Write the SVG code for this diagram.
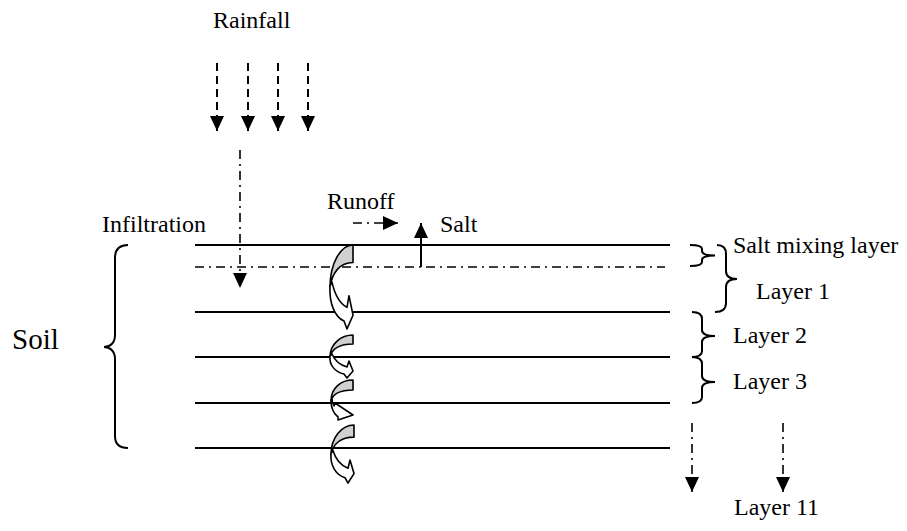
<svg xmlns="http://www.w3.org/2000/svg" xmlns:xlink="http://www.w3.org/1999/xlink" width="907" height="531" viewBox="0 0 907 531">
<style>
text{font-family:"Liberation Serif","Times New Roman",serif;font-size:24px;fill:#000}
.ln{stroke:#000;stroke-width:2;fill:none}
.dd{stroke:#000;stroke-width:1.6;fill:none;stroke-dasharray:9 5 2 5}
.ds{stroke:#000;stroke-width:2;fill:none;stroke-dasharray:8 5}
.br{stroke:#000;stroke-width:2;fill:none}
.cg{fill:#d0d0d0;stroke:#000;stroke-width:1.6;stroke-linejoin:round}
.cw{fill:#fff;stroke:#000;stroke-width:1.6;stroke-linejoin:round}
</style>
<defs>
<marker id="ah" markerUnits="userSpaceOnUse" markerWidth="16" markerHeight="16" refX="15" refY="7" orient="auto">
<path d="M0,0 L15,7 L0,14 Z" fill="#000"/>
</marker>
<g id="curl">
<path class="cg" vector-effect="non-scaling-stroke" d="M23,0 C11,0 0,9 0,22 C2,14 10,9 23,9 Z"/>
<path class="cw" vector-effect="non-scaling-stroke" d="M0,21 C-1,30 5,37 14,39 L17,43 L23,36 L19,26 L17,32 C10,30 5,26 2,19 Z"/>
</g>
</defs>

<g id="layers">
<line class="ln" x1="195" y1="245" x2="670" y2="245"/>
<line class="dd" x1="195" y1="267" x2="665" y2="267"/>
<line class="ln" x1="195" y1="312" x2="670" y2="312"/>
<line class="ln" x1="195" y1="357" x2="670" y2="357"/>
<line class="ln" x1="195" y1="403" x2="670" y2="403"/>
<line class="ln" x1="195" y1="448" x2="670" y2="448"/>
</g>

<g id="connectors">
<line class="ds" x1="217" y1="63" x2="217" y2="131" marker-end="url(#ah)"/>
<line class="ds" x1="248" y1="63" x2="248" y2="131" marker-end="url(#ah)"/>
<line class="ds" x1="278" y1="63" x2="278" y2="131" marker-end="url(#ah)"/>
<line class="ds" x1="308" y1="63" x2="308" y2="131" marker-end="url(#ah)"/>
<line class="dd" x1="240" y1="150" x2="240" y2="288" marker-end="url(#ah)"/>
<line class="dd" x1="353" y1="223" x2="398" y2="223" marker-end="url(#ah)"/>
<line class="ln" x1="421" y1="267" x2="421" y2="223" marker-end="url(#ah)"/>
<line class="dd" x1="692" y1="423" x2="692" y2="492" marker-end="url(#ah)"/>
<line class="dd" x1="783" y1="423" x2="783" y2="492" marker-end="url(#ah)"/>
</g>

<g id="curls">
<use xlink:href="#curl" href="#curl" transform="translate(330,245) scale(1,1.95)"/>
<use xlink:href="#curl" href="#curl" transform="translate(330,335)"/>
<g id="curl3">
<path class="cg" d="M353,380 C341,380 331,388 331,401 C333,393 341,390 353,390 Z"/>
<path class="cw" d="M331,400 C331,408 334,414 338,417 L338,420 L353,415 L335,403 L334,406 C333,404 332,402 332,399 Z"/>
</g>
<use xlink:href="#curl" href="#curl" transform="translate(331,425) scale(1,1.35)"/>
</g>

<g id="braces">
<path class="br" d="M128,245 C120,245 115,249 115,258 L115,335 C115,343 110,347 104,347 C110,347 115,351 115,359 L115,436 C115,444 120,448 128,448"/>
<path class="br" d="M690,245 C698,245 702,246 702,249 L702,251 C702,254 706,255.5 715,255.5 C706,255.5 702,257 702,260 L702,262 C702,265 698,266 690,266"/>
<path class="br" d="M717,245 C723,245 726,248 726,254 L726,271 C726,276 730,279 737,279 C730,279 726,282 726,287 L726,303 C726,309 722,312 715,312"/>
<path class="br" d="M692,312 C698,312 702,314 702,319 L702,330 C702,334 706,336 715,336 C706,336 702,338 702,342 L702,351 C702,355 698,357 692,357"/>
<path class="br" d="M692,357 C698,357 702,359 702,364 L702,376 C702,380 706,382 715,382 C706,382 702,384 702,388 L702,397 C702,401 698,403 692,403"/>
</g>

<g id="labels">
<text x="213" y="28">Rainfall</text>
<text x="102" y="232">Infiltration</text>
<text x="327" y="209">Runoff</text>
<text x="440" y="232">Salt</text>
<text x="733" y="253">Salt mixing layer</text>
<text x="756" y="299">Layer 1</text>
<text x="733" y="343">Layer 2</text>
<text x="733" y="389">Layer 3</text>
<text x="734" y="515">Layer 11</text>
<text x="12" y="349" style="font-size:29px">Soil</text>
</g>
</svg>
